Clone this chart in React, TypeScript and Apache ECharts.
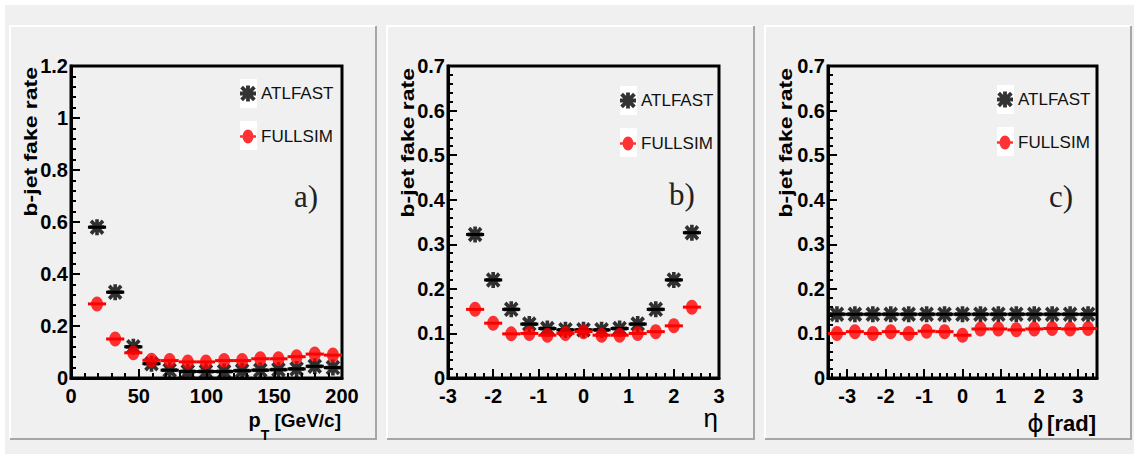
import React, { useEffect, useRef } from "react";
import * as echarts from "echarts";

// ---------- data ----------
const aPt = [19.2, 32.6, 46.0, 59.4, 72.8, 86.2, 99.6, 113.0, 126.3, 139.7, 153.1, 166.5, 179.9, 193.3];
const aAtlfast = [0.58, 0.33, 0.12, 0.055, 0.03, 0.025, 0.025, 0.025, 0.028, 0.03, 0.032, 0.035, 0.045, 0.04];
const aFullsim = [0.285, 0.15, 0.097, 0.068, 0.067, 0.062, 0.062, 0.067, 0.067, 0.074, 0.074, 0.082, 0.092, 0.088];
const aHalfBin = 6.7;

const bEta = [-2.4, -2.0, -1.6, -1.2, -0.8, -0.4, 0, 0.4, 0.8, 1.2, 1.6, 2.0, 2.4];
const bAtlfast = [0.322, 0.22, 0.154, 0.121, 0.111, 0.108, 0.108, 0.108, 0.111, 0.121, 0.154, 0.22, 0.326];
const bFullsim = [0.154, 0.123, 0.099, 0.1, 0.096, 0.1, 0.104, 0.096, 0.096, 0.1, 0.104, 0.117, 0.159];
const bHalfBin = 0.2;

const cPhi = [-3.267, -2.8, -2.333, -1.867, -1.4, -0.933, -0.467, 0, 0.467, 0.933, 1.4, 1.867, 2.333, 2.8, 3.267];
const cAtlfast = [0.143, 0.143, 0.143, 0.143, 0.143, 0.143, 0.143, 0.143, 0.143, 0.143, 0.143, 0.143, 0.143, 0.143, 0.143];
const cFullsim = [0.1, 0.104, 0.1, 0.104, 0.1, 0.105, 0.104, 0.096, 0.11, 0.11, 0.108, 0.11, 0.111, 0.11, 0.111];
const cHalfBin = 0.2333;

const seriesNames = ["ATLFAST", "FULLSIM"];
const yTitle = "b-jet fake rate";
const panelTags = ["a)", "b)", "c)"];

// ---------- styling ----------
const SANS = "'Liberation Sans', Arial, Helvetica, sans-serif";
const SERIF = "'Liberation Serif', 'DejaVu Serif', serif";
const RED = "#ff0000";

const ASTERISK =
  "path://M38 0L62 0L62 100L38 100Z M0 38L100 38L100 62L0 62Z M18.5 1.5L98.5 81.5L81.5 98.5L1.5 18.5Z M81.5 1.5L98.5 18.5L18.5 98.5L1.5 81.5Z";
const DOTBAR = "path://M0 42L100 42L100 58L0 58Z M50 6A34 44 0 1 1 50 94A34 44 0 1 1 50 6Z";

const grids = [
  { left: 71, top: 66, width: 271, height: 312 },
  { left: 448, top: 66, width: 271, height: 312 },
  { left: 828, top: 66, width: 269, height: 312 },
];
const panels = [
  [10, 26, 376, 439],
  [387, 26, 754, 439],
  [765, 26, 1131, 439],
];
const legendPos = [
  [240, 85],
  [620, 92],
  [997, 91],
];

function errRender(color: string) {
  return (params: any, api: any) => {
    const x = api.value(0);
    const y = api.value(1);
    const hw = api.value(2);
    const p1 = api.coord([x - hw, y]);
    const p2 = api.coord([x + hw, y]);
    return {
      type: "line",
      shape: { x1: p1[0], y1: p1[1], x2: p2[0], y2: p2[1] },
      style: { stroke: color, lineWidth: 3 },
    };
  };
}

const axisCommon = {
  axisLine: { show: true, onZero: false, lineStyle: { color: "#000", width: 3 } },
  axisTick: { show: true, inside: true, length: 9, lineStyle: { color: "#000", width: 2 } },
  minorTick: { show: true, splitNumber: 5, length: 5, lineStyle: { color: "#000", width: 2 } },
  splitLine: { show: false },
  minorSplitLine: { show: false },
};
const labelCommon = { color: "#000", fontSize: 20, fontWeight: "bold", fontFamily: SANS };

export default function App() {
  const ref = useRef<HTMLDivElement>(null);
  useEffect(() => {
    if (!ref.current) return;
    const chart = echarts.init(ref.current, null, { renderer: "svg" });

    const xs = [aPt, bEta, cPhi];
    const atl = [aAtlfast, bAtlfast, cAtlfast];
    const full = [aFullsim, bFullsim, cFullsim];
    const hws = [aHalfBin, bHalfBin, cHalfBin];

    const series: any[] = [];
    for (let i = 0; i < 3; i++) {
      const mk = (arr: number[]) => xs[i].map((x, k) => [x, arr[k]]);
      const mkErr = (arr: number[]) => xs[i].map((x, k) => [x, arr[k], hws[i]]);
      series.push({
        name: seriesNames[0] + " err",
        type: "custom",
        xAxisIndex: i,
        yAxisIndex: i,
        renderItem: errRender("#000"),
        data: mkErr(atl[i]),
        z: 2,
      });
      series.push({
        name: seriesNames[0],
        type: "scatter",
        xAxisIndex: i,
        yAxisIndex: i,
        symbol: ASTERISK,
        symbolSize: [15, 16],
        itemStyle: { color: "#000" },
        data: mk(atl[i]),
        z: 3,
      });
      series.push({
        name: seriesNames[1] + " err",
        type: "custom",
        xAxisIndex: i,
        yAxisIndex: i,
        renderItem: errRender(RED),
        data: mkErr(full[i]),
        z: 4,
      });
      series.push({
        name: seriesNames[1],
        type: "scatter",
        xAxisIndex: i,
        yAxisIndex: i,
        symbol: "circle",
        symbolSize: [12, 15],
        itemStyle: { color: RED },
        data: mk(full[i]),
        z: 5,
      });
    }

    const xLabel = { ...labelCommon, margin: 10, lineHeight: 16 };
    const yLabel = { ...labelCommon, margin: 3, lineHeight: 15, padding: [5, 0, 0, 0] };
    const xAxis = [
      { ...axisCommon, type: "value", gridIndex: 0, min: 0, max: 200, interval: 50, axisLabel: xLabel },
      { ...axisCommon, type: "value", gridIndex: 1, min: -3, max: 3, interval: 1, axisLabel: xLabel },
      { ...axisCommon, type: "value", gridIndex: 2, min: -3.5, max: 3.5, splitNumber: 7,
        axisLabel: { ...xLabel, showMinLabel: false, showMaxLabel: false } },
    ];
    const yAxis = [
      { ...axisCommon, type: "value", gridIndex: 0, min: 0, max: 1.2, interval: 0.2, axisLabel: yLabel },
      { ...axisCommon, type: "value", gridIndex: 1, min: 0, max: 0.7, interval: 0.1, axisLabel: yLabel },
      { ...axisCommon, type: "value", gridIndex: 2, min: 0, max: 0.7, interval: 0.1, axisLabel: yLabel },
    ];

    const legend = legendPos.map(([l, t]) => ({
      left: l,
      top: t,
      orient: "vertical",
      padding: 0,
      itemWidth: 16,
      itemHeight: 16,
      itemGap: 26,
      selectedMode: false,
      textStyle: { fontSize: 17, lineHeight: 16, color: "#111", fontFamily: SANS },
      data: [
        { name: seriesNames[0], icon: ASTERISK },
        { name: seriesNames[1], icon: DOTBAR },
      ],
    }));

    const graphic: any[] = [];
    graphic.push({ type: "rect", shape: { x: 0, y: 0, width: 1134, height: 5 }, style: { fill: "#fff" }, z: 0 });
    graphic.push({ type: "rect", shape: { x: 0, y: 0, width: 5, height: 454 }, style: { fill: "#fff" }, z: 0 });
    panels.forEach(([x0, y0, x1, y1]) => {
      graphic.push({ type: "polyline", shape: { points: [[x0, y1], [x0, y0], [x1, y0]] }, style: { stroke: "#fff", lineWidth: 2, fill: null }, z: 0 });
      graphic.push({ type: "polyline", shape: { points: [[x0, y1], [x1, y1], [x1, y0]] }, style: { stroke: "#a6a6a6", lineWidth: 2, fill: null }, z: 0 });
    });
    legendPos.forEach(([l, t]) => {
      graphic.push({ type: "rect", shape: { x: l, y: t - 6, width: 17, height: 29 }, style: { fill: "#ffffff" }, z: 1 });
      graphic.push({ type: "rect", shape: { x: l, y: t + 36, width: 17, height: 29 }, style: { fill: "#ffffff" }, z: 1 });
    });
    [[30, 67], [407, 68], [785, 68]].forEach(([x, y]) => {
      graphic.push({
        type: "text", x, y, rotation: Math.PI / 2, scaleY: 0.82, z: 5,
        style: { text: yTitle, align: "right", verticalAlign: "middle", fontSize: 23, fontWeight: "bold", fontFamily: SANS, fill: "#000" },
      });
    });
    [[306, 196], [682, 194], [1061, 196]].forEach(([x, y], i) => {
      graphic.push({
        type: "text", x, y, z: 5,
        style: { text: panelTags[i], align: "center", verticalAlign: "middle", fontSize: 31, fontFamily: SERIF, fill: "#222" },
      });
    });
    graphic.push({
      type: "text", x: 341, y: 420, z: 5,
      style: {
        text: "{p|p}{t|T}{g| [GeV/c]}", align: "right", verticalAlign: "middle",
        rich: {
          p: { fontSize: 20, fontWeight: "bold", fontFamily: SANS, fill: "#000", lineHeight: 24 },
          t: { fontSize: 14, fontWeight: "bold", fontFamily: SANS, fill: "#000", lineHeight: 14, padding: [30, 0, 0, 0] },
          g: { fontSize: 19, fontWeight: "bold", fontFamily: SANS, fill: "#000", lineHeight: 24 },
        },
      },
    });
    graphic.push({
      type: "text", x: 718, y: 418, z: 5,
      style: { text: "η", align: "right", verticalAlign: "middle", fontSize: 26, lineHeight: 24, fontFamily: SANS, fill: "#000" },
    });
    graphic.push({
      type: "text", x: 1096, y: 423, z: 5,
      style: {
        text: "{f|ϕ} {r|[rad]}", align: "right", verticalAlign: "middle",
        rich: {
          f: { fontSize: 25, fontFamily: "'DejaVu Sans', sans-serif", fill: "#000" },
          r: { fontSize: 22, fontWeight: "bold", fontFamily: SANS, fill: "#000" },
        },
      },
    });

    chart.setOption({
      animation: false,
      backgroundColor: "#f0f0f0",
      grid: grids.map((g) => ({ ...g, show: true, borderColor: "#000", borderWidth: 3, backgroundColor: "transparent", containLabel: false, outerBoundsMode: "none" })),
      xAxis,
      yAxis,
      legend,
      graphic,
      series,
    });
    return () => chart.dispose();
  }, []);
  return <div ref={ref} style={{ position: "fixed", left: 0, top: 0, width: 1134, height: 454 }} />;
}
